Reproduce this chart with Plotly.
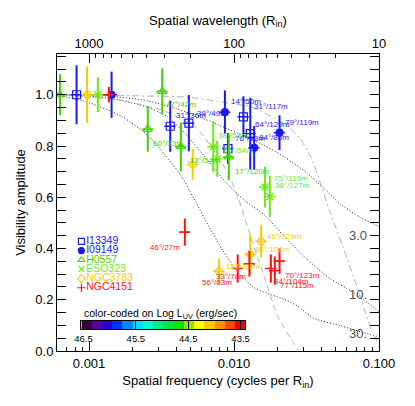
import numpy as np
import plotly.graph_objects as go

# model visibility curves, x = spatial frequency (cycles per R_in)
model_3_freq = [0.0006, 0.00137, 0.00254, 0.00473, 0.00879, 0.0163, 0.0223, 0.0318, 0.0414, 0.054, 0.0735, 0.1]
model_3_vis = [1.0, 0.995, 0.976, 0.932, 0.870, 0.801, 0.757, 0.695, 0.636, 0.574, 0.523, 0.486]

model_10_freq = [0.0006, 0.001, 0.0016, 0.00254, 0.00347, 0.00473, 0.00645, 0.00879, 0.012, 0.0163, 0.0223,
                 0.0318, 0.0461, 0.066, 0.1]
model_10_vis = [1.0, 0.995, 0.980, 0.951, 0.914, 0.841, 0.750, 0.658, 0.585, 0.530, 0.446, 0.358, 0.282, 0.230, 0.154]

model_30_freq = [0.0006, 0.001, 0.0017, 0.00254, 0.00331, 0.00431, 0.00527, 0.00675, 0.0084, 0.0108, 0.014,
                 0.0182, 0.0223, 0.0273, 0.0355, 0.054, 0.077, 0.1]
model_30_vis = [1.0, 0.969, 0.914, 0.841, 0.768, 0.684, 0.596, 0.483, 0.391, 0.303, 0.245, 0.219, 0.201, 0.176,
                0.128, 0.099, 0.073, 0.055]

ring_wide_freq = [0.0006, 0.00254, 0.00473, 0.00879, 0.01337, 0.0223, 0.0281, 0.0344, 0.0402, 0.0461, 0.0592,
                  0.0735, 0.09, 0.1]
ring_wide_vis = [1.0, 0.995, 0.991, 0.969, 0.951, 0.885, 0.834, 0.749, 0.640, 0.541, 0.373, 0.219, 0.073, 0.029]

ring_steep_freq = [0.0006, 0.0016, 0.00347, 0.00552, 0.00719, 0.00921, 0.01075, 0.01337, 0.01634, 0.02, 0.0261, 0.0281]
ring_steep_vis = [1.0, 0.980, 0.932, 0.870, 0.786, 0.687, 0.592, 0.428, 0.282, 0.135, 0.026, 0.0]

# observed visibilities
i13349_freq = [0.00082, 0.00363, 0.00488, 0.01161, 0.01294, 0.00908]
i13349_vis = [1.0, 0.877, 0.889, 0.914, 0.848, 0.790]
i13349_err = [0.115, 0.10, 0.11, 0.08, 0.14, 0.06]
i13349_labels = ["", "31°/36m", "39°/49m", "31°/117m", "64°/129m", "76°/93m"]

i09149_freq = [0.00143, 0.00865, 0.01377, 0.0206]
i09149_vis = [1.0, 0.932, 0.793, 0.852]
i09149_err = [0.09, 0.085, 0.085, 0.068]
i09149_labels = ["", "14°/50m", "84°/86m", "79°/119m"]

h0557_freq = [0.00063, 0.0032, 0.00254, 0.0043, 0.0092]
h0557_vis = [1.0, 1.013, 0.866, 0.797, 0.757]
h0557_err = [0.08, 0.09, 0.088, 0.095, 0.09]
h0557_labels = ["", "47°/42m", "60°/33m", "-13°/54m", "17°/120m"]

eso323_freq = [0.00115, 0.00719, 0.00766, 0.01633, 0.01766]
eso323_vis = [1.0, 0.797, 0.750, 0.640, 0.603]
eso323_err = [0.068, 0.10, 0.07, 0.08, 0.08]
eso323_labels = ["", "38°/58m", "31°/54m", "75°/118m", "38°/127m"]

ngc3783_freq = [0.00097, 0.00519, 0.00789, 0.01295, 0.01538]
ngc3783_vis = [1.0, 0.728, 0.311, 0.377, 0.428]
ngc3783_err = [0.11, 0.06, 0.05, 0.077, 0.064]
ngc3783_labels = ["", "", "113°/67m", "80°/108m", "46°/129m"]

ngc4151_freq = [0.00137, 0.00458, 0.0106, 0.01277, 0.01795, 0.0191, 0.0206]
ngc4151_vis = [1.0, 0.464, 0.322, 0.340, 0.322, 0.314, 0.351]
ngc4151_err = [0.03, 0.053, 0.055, 0.05, 0.055, 0.055, 0.05]
ngc4151_labels = ["", "46°/27m", "56°/63m", "33°/78m", "84°/104m", "77°/115m", "70°/123m"]

legend_names = ["I13349", "I09149", "H0557", "ESO323", "NGC3783", "NGC4151"]

# colour bar for Log L_UV
lum_ticks = [46.5, 45.5, 44.5, 43.5]
lum_range = [46.54, 43.41]
lum_colors = ["#32003c", "#5a00a0", "#2c00dc", "#0030ff", "#0088ff", "#00ddff", "#00ffcc", "#00f088",
              "#00e840", "#10e000", "#90e800", "#ffff00", "#ffcc00", "#ff9000", "#ff4400", "#ee0000"]

FONT = "Liberation Sans, Arial, sans-serif"

# label placement: (xshift px, yshift px, anchor)
i13349_shift = [None, (4, 11, "left"), (6, 10, "left"), (9, 10, "left"), (3, 9, "left"), (5, 10, "left")]
i09149_shift = [None, (4, 11, "left"), (3, 10, "left"), (3, 10, "left")]
h0557_shift = [None, (2, -13, "left"), (3, -14, "left"), (4, -14, "left"), (4, -14, "left")]
eso323_shift = [None, (3, 11, "left"), (4, 8, "left"), (7, 9, "left"), (3, 11, "left")]
ngc3783_shift = [None, None, (5, 5, "left"), (3, 5, "left"), (4, 5, "left")]
ngc4151_shift = [None, (-3, -15, "right"), (-4, -14, "right"), (-1, -13, "right"), (1, -13, "left"),
                 (3, -15, "left"), (3, -14, "left")]

series = [
    (i13349_freq, i13349_vis, i13349_err, i13349_labels, i13349_shift, "square-open", "#1a1af0", 8),
    (i09149_freq, i09149_vis, i09149_err, i09149_labels, i09149_shift, "circle", "#1a1af0", 7),
    (h0557_freq, h0557_vis, h0557_err, h0557_labels, h0557_shift, "triangle-up-open", "#3cd400", 8),
    (eso323_freq, eso323_vis, eso323_err, eso323_labels, eso323_shift, "x-thin-open", "#6ee81a", 7),
    (ngc3783_freq, ngc3783_vis, ngc3783_err, ngc3783_labels, ngc3783_shift, "diamond-open", "#f8cc00", 7),
    (ngc4151_freq, ngc4151_vis, ngc4151_err, ngc4151_labels, ngc4151_shift, "cross-thin-open", "#ff1414", 7),
]

fig = go.Figure()

# model curves
for f, v in [(model_3_freq, model_3_vis), (model_10_freq, model_10_vis), (model_30_freq, model_30_vis)]:
    fig.add_trace(go.Scatter(x=f, y=v, mode="lines", line=dict(color="#222222", width=1, dash="1px,2px",
                                                                  shape="spline", smoothing=0.6),
                             showlegend=False, hoverinfo="skip"))
fig.add_trace(go.Scatter(x=ring_wide_freq, y=ring_wide_vis, mode="lines",
                         line=dict(color="#b4b4b4", width=1, dash="7px,3px,2px,3px", shape="spline", smoothing=0.6),
                         showlegend=False, hoverinfo="skip"))
fig.add_trace(go.Scatter(x=ring_steep_freq, y=ring_steep_vis, mode="lines",
                         line=dict(color="#b4b4b4", width=1, dash="6px,4px", shape="spline", smoothing=0.6),
                         showlegend=False, hoverinfo="skip"))

# invisible trace so the wavelength axis is drawn
fig.add_trace(go.Scatter(x=1.0 / np.array(model_3_freq), y=model_3_vis, xaxis="x2", yaxis="y", mode="lines",
                         line=dict(color="rgba(0,0,0,0)"), showlegend=False, hoverinfo="skip"))

annotations = []
for freq, vis, err, labels, shifts, symbol, color, size in series:
    fig.add_trace(go.Scatter(
        x=freq, y=vis, mode="markers",
        marker=dict(symbol=symbol, color=color, size=size, line=dict(color=color, width=1.2)),
        error_y=dict(type="data", array=err, color=color, thickness=2, width=0),
        error_x=dict(type="percent", value=9, color=color, thickness=1.5, width=0),
        showlegend=False, hoverinfo="skip",
    ))
    for f, v, text, sh in zip(freq, vis, labels, shifts):
        if not text:
            continue
        dx, dy, anchor = sh
        annotations.append(dict(x=np.log10(f), y=v, xref="x", yref="y", text=text, showarrow=False,
                                xanchor=anchor, yanchor="middle", xshift=dx, yshift=dy,
                                font=dict(family=FONT, size=8, color=color)))

# curve labels at right edge
for f, v, text, dy in [(model_3_freq, model_3_vis, "3.0", -9), (model_10_freq, model_10_vis, "10.", 17),
                       (model_30_freq, model_30_vis, "30.", 3)]:
    annotations.append(dict(x=np.log10(f[-1]), y=v[-1], xref="x", yref="y", text=text, showarrow=False,
                            xanchor="right", yanchor="middle", xshift=-10, yshift=dy,
                            font=dict(family=FONT, size=13, color="#505050")))

# legend drawn as its own small subplot
fig.add_trace(go.Scatter(
    x=[4] * len(legend_names), y=list(range(len(legend_names))), xaxis="x4", yaxis="y4",
    mode="markers+text", text=legend_names, textposition="middle right",
    textfont=dict(family=FONT, size=10.5, color=[s[6] for s in series]),
    marker=dict(symbol=[s[5] for s in series], color=[s[6] for s in series], size=6,
                line=dict(color=[s[6] for s in series], width=1.1)),
    showlegend=False, hoverinfo="skip", cliponaxis=False,
))

# colour bar
n = len(lum_colors)
scale = []
for i, c in enumerate(lum_colors):
    scale.append([i / n, c])
    scale.append([(i + 1) / n, c])
fig.add_trace(go.Heatmap(
    z=[list(range(n))], x=np.linspace(lum_range[0], lum_range[1], n + 1), y=[0],
    colorscale=scale, zmin=-0.5, zmax=n - 0.5, showscale=False, xaxis="x3", yaxis="y3", hoverinfo="skip",
))
annotations.append(dict(x=0.079, y=0.123, xref="paper", yref="paper", text="color-coded on Log L<sub>UV</sub> (erg/sec)",
                        showarrow=False, xanchor="left", yanchor="middle", font=dict(family=FONT, size=10.5, color="black")))

axis_common = dict(showgrid=False, zeroline=False, showline=True, linecolor="black", linewidth=1,
                   ticks="inside", tickcolor="black", tickwidth=1, tickfont=dict(family=FONT, size=13, color="black"))

x_minor = [m * 10.0 ** e for e in (-4, -3, -2) for m in range(2, 10)]
wl_minor = [m * 10.0 ** e for e in (1, 2) for m in range(2, 10)]

# the page body adds an 8px margin, so the figure is a bit smaller than the window
fig.update_layout(
    width=399, height=390, autosize=False,
    margin=dict(l=49, r=20, t=35, b=38),
    paper_bgcolor="white", plot_bgcolor="rgba(0,0,0,0)",
    font=dict(family=FONT, size=13, color="black"),
    annotations=annotations,
    xaxis=dict(axis_common, type="log", range=[np.log10(0.000601), -1], tickvals=[0.001, 0.01, 0.1],
               ticktext=["0.001", "0.010", "0.100"], ticklen=9,
               minor=dict(tickvals=x_minor, ticks="inside", ticklen=4, tickcolor="black"),
               title=dict(text="Spatial frequency (cycles per R<sub>in</sub>)", standoff=6,
                          font=dict(family=FONT, size=13))),
    xaxis2=dict(axis_common, type="log", overlaying="x", side="top", anchor="y",
                range=[np.log10(1 / 0.000601), 1], tickvals=[1000, 100, 10], ticktext=["1000", "100", "10"],
                ticklen=9, minor=dict(tickvals=wl_minor, ticks="inside", ticklen=4, tickcolor="black"),
                title=dict(text="Spatial wavelength (R<sub>in</sub>)", standoff=7, font=dict(family=FONT, size=13))),
    yaxis=dict(axis_common, range=[0, 1.159], tickvals=[0, 0.2, 0.4, 0.6, 0.8, 1.0],
               ticktext=["0.0", "0.2", "0.4", "0.6", "0.8", "1.0"], ticklen=9, mirror="allticks",
               minor=dict(dtick=0.05, tick0=0, ticks="inside", ticklen=4, tickcolor="black"),
               title=dict(text="Visibility amplitude", standoff=6, font=dict(family=FONT, size=13))),
    xaxis3=dict(domain=[(82 - 57) / 330, (250 - 57) / 330], anchor="y3", range=lum_range, showgrid=False,
                zeroline=False, showline=True, mirror=True, linecolor="black", ticks="inside", ticklen=9,
                tickcolor="black", tickvals=lum_ticks, ticktext=[f"{t:.1f}" for t in lum_ticks],
                tickfont=dict(family=FONT, size=9.5, color="black")),
    yaxis3=dict(domain=[(360 - 337) / 317, (360 - 328) / 317], anchor="x3", range=[-0.5, 0.5], showgrid=False,
                zeroline=False, showline=True, mirror=True, linecolor="black", showticklabels=False, ticks=""),
    xaxis4=dict(domain=[(78 - 57) / 330, (178 - 57) / 330], anchor="y4", range=[0, 100], visible=False),
    yaxis4=dict(domain=[(360 - 300) / 317, (360 - 235) / 317], anchor="x4", range=[5.758, -0.808], visible=False),
)

fig.write_html("out.html")
